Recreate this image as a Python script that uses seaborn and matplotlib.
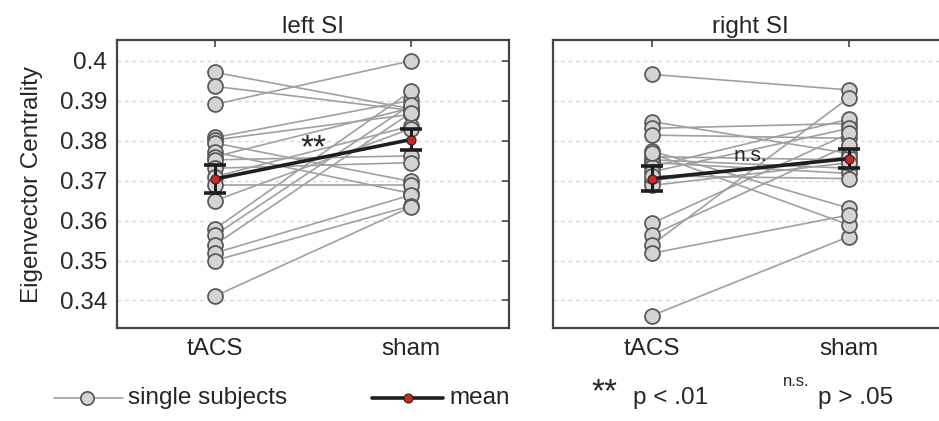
import numpy as np
import pandas as pd
import matplotlib
matplotlib.use("Agg")
import matplotlib.pyplot as plt
from matplotlib.lines import Line2D
from matplotlib.ticker import FuncFormatter
import seaborn as sns

conditions = ["tACS", "sham"]
panels = ["left SI", "right SI"]
significance = ["**", "n.s."]

left_tacs = [0.3971, 0.3936, 0.3891, 0.3808, 0.3802, 0.3794, 0.3771, 0.3760, 0.3752, 0.3731,
             0.3710, 0.3690, 0.3650, 0.3579, 0.3564, 0.3540, 0.3519, 0.3500, 0.3411]
left_sham = [0.3880, 0.3876, 0.4000, 0.3901, 0.3866, 0.3698, 0.3668, 0.3882, 0.3762, 0.3745,
             0.3837, 0.3690, 0.3830, 0.3924, 0.3890, 0.3870, 0.3664, 0.3637, 0.3634]

right_tacs = [0.3966, 0.3362, 0.3848, 0.3831, 0.3814, 0.3760, 0.3752, 0.3745, 0.3735, 0.3722,
              0.3700, 0.3688, 0.3774, 0.3768, 0.3712, 0.3593, 0.3564, 0.3539, 0.3518]
right_sham = [0.3927, 0.3560, 0.3768, 0.3843, 0.3806, 0.3752, 0.3731, 0.3718, 0.3854, 0.3831,
              0.3760, 0.3745, 0.3631, 0.3589, 0.3705, 0.3818, 0.3789, 0.3908, 0.3614]

yticks = [0.34, 0.35, 0.36, 0.37, 0.38, 0.39, 0.40]

GRAY_LINE = "#a0a0a0"
FACE = "#d4d4d4"
EDGE = "#5a5a5a"
RED = "#c62a24"
SPINE = "#444444"
FS = 17.5


def long_table(tacs, sham):
    n = len(tacs)
    return pd.DataFrame({
        "subject": list(range(n)) * 2,
        "condition": [conditions[0]] * n + [conditions[1]] * n,
        "pos": [0] * n + [1] * n,
        "value": list(tacs) + list(sham),
    })


data = [long_table(left_tacs, left_sham), long_table(right_tacs, right_sham)]

sns.set_style("white")
plt.rcParams["font.family"] = ["Liberation Sans", "DejaVu Sans"]

fig = plt.figure(figsize=(9.39, 4.21), dpi=100)
ax_l = fig.add_axes([0.1246, 0.2209, 0.4175, 0.684])
ax_r = fig.add_axes([0.5889, 0.2209, 0.4205, 0.684], sharey=ax_l)

for ax, df, title, sig in zip([ax_l, ax_r], data, panels, significance):
    for y in yticks:
        ax.axhline(y, color="#d6d6d6", lw=0.9, ls=(0, (3, 3)), zorder=0)

    sns.lineplot(data=df, x="pos", y="value", units="subject", estimator=None,
                 color=GRAY_LINE, lw=1.2, ax=ax, zorder=2, legend=False)
    sns.scatterplot(data=df, x="pos", y="value", color=FACE, edgecolor=EDGE,
                    linewidth=1.3, s=115, ax=ax, zorder=3, legend=False)

    stats = df.groupby("pos")["value"].agg(["mean", "sem"])
    ax.errorbar(stats.index, stats["mean"], yerr=stats["sem"], color="#1e1e1e",
                lw=2.6, capsize=8, capthick=2.6, elinewidth=2.2, zorder=4)
    ax.plot(stats.index, stats["mean"], "o", ms=6.5, mfc=RED, mec="#3a1a1a",
            mew=0.8, zorder=5)

    if sig == "**":
        ax.text(0.5, 0.3781, sig, ha="center", va="center", fontsize=24, zorder=6)
    else:
        ax.text(0.5, 0.3764, sig, ha="center", va="center", fontsize=15, zorder=6)

    ax.set_xlim(-0.5, 1.5)
    ax.set_ylim(0.3331, 0.4052)
    ax.set_xticks([0, 1])
    ax.set_xticklabels(conditions)
    ax.set_yticks(yticks)
    ax.set_xlabel("")
    ax.set_ylabel("")
    ax.set_title(title, fontsize=FS, pad=5)
    ax.tick_params(direction="in", length=5, width=1.2, color=SPINE,
                   top=True, right=True, labelsize=FS, pad=7)
    for sp in ax.spines.values():
        sp.set_color(SPINE)
        sp.set_linewidth(1.6)

ax_l.yaxis.set_major_formatter(FuncFormatter(lambda v, p: f"{v:g}"))
ax_l.set_ylabel("Eigenvector Centrality", fontsize=FS, labelpad=12)
ax_r.tick_params(labelleft=False)

# legend row
W, H = 939.0, 421.0
ly = 1 - 398 / H
fig.add_artist(Line2D([54 / W, 123 / W], [ly, ly], color=GRAY_LINE, lw=1.2))
fig.add_artist(Line2D([87 / W], [ly], marker="o", ms=9.5, mfc=FACE, mec=EDGE, mew=1.3))
fig.text(128 / W, ly, "single subjects", fontsize=FS, va="center")
fig.add_artist(Line2D([372 / W, 443 / W], [ly, ly], color="#1e1e1e", lw=2.6))
fig.add_artist(Line2D([408 / W], [ly], marker="o", ms=6.5, mfc=RED, mec="#3a1a1a", mew=0.8))
fig.text(449 / W, ly, "mean", fontsize=FS, va="center")
fig.text(591 / W, ly + 0.012, "**", fontsize=24, va="center")
fig.text(598 / W + 0.037, ly, "p < .01", fontsize=FS, va="center")
fig.text(783 / W, ly + 0.04, "n.s.", fontsize=12, va="center")
fig.text(818 / W, ly, "p > .05", fontsize=FS, va="center")

fig.savefig("out.png", dpi=100)
